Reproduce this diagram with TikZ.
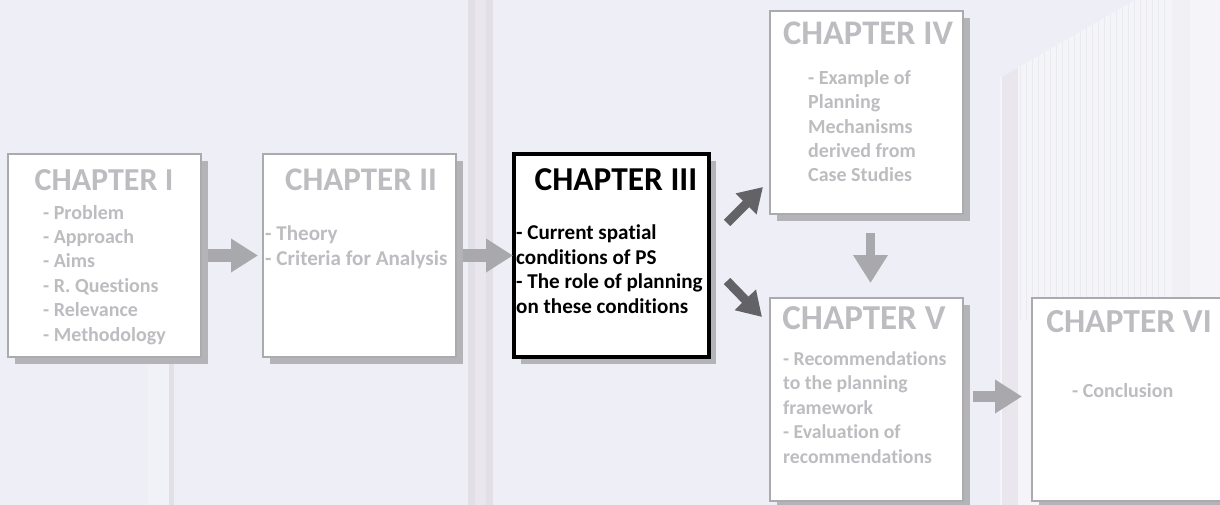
\documentclass[tikz,border=0pt]{standalone}
\usepackage{fontspec}
\setmainfont{Carlito}[Ligatures=NoCommon]
\usetikzlibrary{arrows.meta,shadows}

\definecolor{bgpaper}{HTML}{EEEEF7}
\definecolor{poletone}{HTML}{E2DFE6}
\definecolor{polelight}{HTML}{E9E7ED}
\definecolor{netfill}{HTML}{F4F4F9}
\definecolor{netline}{HTML}{EAEAF1}
\definecolor{chapgray}{HTML}{BDBDC1}
\definecolor{framegray}{HTML}{ABABAF}
\definecolor{shadegray}{HTML}{B3B3B8}
\definecolor{arrowlight}{HTML}{A8A8AD}
\definecolor{arrowdark}{HTML}{626267}

\tikzset{
  chapbox/.style={draw=framegray, line width=2.5pt, fill=white,
    minimum width=193pt, minimum height=203pt, anchor=north west,
    inner sep=0pt, outer sep=0pt,
    drop shadow={shadow xshift=7pt, shadow yshift=-7pt, fill=shadegray, opacity=1}},
  keybox/.style={chapbox, draw=black, line width=3.5pt},
  chaptitle/.style={anchor=base, inner sep=0pt, text=chapgray,
    font=\fontsize{#1}{38}\selectfont\bfseries},
  chaptitle/.default=32,
  % multi-line bodies are placed by the baseline of their last line
  chapbody/.style={anchor=base west, inner sep=0pt, align=left, text=chapgray,
    font=\fontsize{#1}{24.4}\selectfont\bfseries},
  chapbody/.default=20,
  larrow/.style={draw=arrowlight, line width=13pt,
    -{Triangle[length=27pt,width=32pt]}},
  varrow/.style={draw=arrowlight, line width=9pt,
    -{Triangle[length=28pt,width=33pt]}},
  darrow/.style={draw=arrowdark, line width=9pt,
    -{Triangle[length=24pt,width=28pt]}},
}

\begin{document}
\begin{tikzpicture}[x=1pt,y=-1pt]
  \useasboundingbox (0,0) rectangle (1220,505);
  % backdrop
  \fill[bgpaper] (0,0) rectangle (1220,505);
  % poles
  \fill[poletone] (468,0) rectangle (493,505);
  \fill[polelight] (475,0) rectangle (486,505);
  \fill[netfill!60!bgpaper] (148,357) rectangle (174,505);
  \fill[poletone] (169,357) rectangle (174,505);
  % net on the right
  \begin{scope}
    \clip (1000,78) -- (1135,0) -- (1220,0) -- (1220,505) -- (1000,505) -- cycle;
    \fill[netfill] (990,0) rectangle (1220,505);
    \foreach \xx in {1020,1026,...,1166}
      \draw[netline, line width=0.8pt] (\xx,0) -- (\xx,320);
    \fill[polelight] (1002,0) rectangle (1018,505);
    \fill[netfill!70!polelight] (1172,0) rectangle (1190,505);
  \end{scope}

  % chapter boxes
  \node[chapbox] (b1) at (8,154) {};
  \node[chapbox] (b2) at (263,154) {};
  \node[keybox, minimum width=195pt] (b3) at (514,154) {};
  \node[chapbox] (b4) at (770,11) {};
  \node[chapbox] (b5) at (770,298) {};
  \node[chapbox] (b6) at (1032,298) {};

  % titles
  \node[chaptitle=32] (h1) at (104,191) {CHAPTER I};
  \node[chaptitle=33] (h2) at (361,190) {CHAPTER II};
  \node[chaptitle=33.4, text=black] (h3) at (616,190) {CHAPTER III};
  \node[chaptitle=34.5] (h4) at (868,45) {CHAPTER IV};
  \node[chaptitle=35] (h5) at (864,329) {CHAPTER V};
  \node[chaptitle=33.6] (h6) at (1129,332) {CHAPTER VI};

  % contents
  \node[chapbody] (t1) at (43,341) {- Problem\\- Approach\\- Aims\\- R. Questions\\- Relevance\\- Methodology};
  \node[chapbody=21.1] (t2) at (265,265) {- Theory\\- Criteria for Analysis};
  \node[chapbody=21.1, text=black] (t3) at (516,313) {- Current spatial\\conditions of PS\\- The role of planning\\on these conditions};
  \node[chapbody] (t4) at (808,182) {- Example of\\Planning\\Mechanisms\\derived from\\Case Studies};
  \node[chapbody=19.7] (t5) at (783,463) {- Recommendations\\to the planning\\framework\\- Evaluation of\\recommendations};
  \node[chapbody] (t6) at (1072,397) {- Conclusion};

  % flow between chapters
  \draw[larrow, shorten <=7pt, shorten >=5pt] (b1.east) -- (b2.west);
  \draw[larrow, shorten <=7pt, shorten >=1pt] (b2.east) -- (b3.west);
  \draw[darrow] ([xshift=18pt,yshift=-69pt]b3.north east) -- ([xshift=-7pt,yshift=27pt]b4.south west);
  \draw[darrow] ([xshift=18pt,yshift=76pt]b3.south east) -- ([xshift=-8pt,yshift=-19pt]b5.north west);
  \draw[varrow] ([xshift=4pt,yshift=-19pt]b4.south) -- ([xshift=4pt,yshift=15pt]b5.north);
  \draw[larrow, line width=11pt, shorten <=10pt, shorten >=10pt] ([yshift=3pt]b5.east) -- ([yshift=3pt]b6.west);
\end{tikzpicture}
\end{document}
